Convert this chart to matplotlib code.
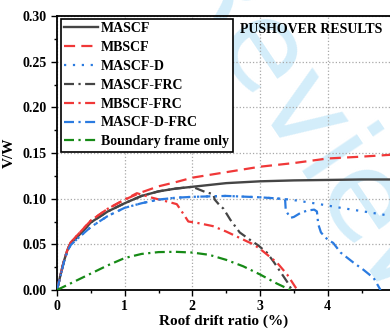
import matplotlib
matplotlib.use("Agg")
import matplotlib.pyplot as plt
from matplotlib.ticker import MultipleLocator, FormatStrFormatter

plt.rcParams['font.family'] = ['Liberation Serif', 'DejaVu Serif']
plt.rcParams['font.weight'] = 'bold'

# pushover curves: roof drift ratio (%) vs base shear ratio V/W
mascf_x = [0, 0.05, 0.1, 0.15, 0.2, 0.3, 0.5, 0.75, 1.0, 1.25, 1.5, 1.75, 2.0, 2.5, 3.0, 3.5, 4.0, 4.5, 4.92]
mascf_y = [0, 0.016, 0.031, 0.043, 0.051, 0.058, 0.074, 0.086, 0.095, 0.103, 0.108, 0.111, 0.113, 0.117, 0.119, 0.120, 0.1205, 0.121, 0.121]

mbscf_x = [0, 0.05, 0.1, 0.15, 0.2, 0.3, 0.5, 0.75, 1.0, 1.25, 1.5, 1.75, 2.0, 2.5, 3.0, 3.5, 4.0, 4.5, 4.92]
mbscf_y = [0, 0.016, 0.031, 0.043, 0.052, 0.060, 0.076, 0.089, 0.099, 0.107, 0.1135, 0.118, 0.123, 0.129, 0.135, 0.139, 0.144, 0.146, 0.148]

mascf_d_x = [0, 0.05, 0.1, 0.15, 0.2, 0.3, 0.5, 0.75, 1.0, 1.25, 1.5, 1.75, 2.0, 2.5, 3.0, 3.45, 3.84, 4.19, 4.53, 4.92]
mascf_d_y = [0, 0.015, 0.030, 0.042, 0.049, 0.056, 0.069, 0.081, 0.090, 0.095, 0.099, 0.101, 0.102, 0.103, 0.1015, 0.099, 0.0945, 0.090, 0.086, 0.0813]

mascf_frc_x = [0, 0.05, 0.1, 0.15, 0.2, 0.3, 0.5, 0.75, 1.0, 1.25, 1.5, 1.75, 2.0, 2.1, 2.2, 2.31, 2.33, 2.4, 2.46, 2.56, 2.7, 2.85, 2.97, 3.1, 3.2, 3.3, 3.4, 3.47]
mascf_frc_y = [0, 0.016, 0.031, 0.043, 0.051, 0.058, 0.074, 0.086, 0.095, 0.103, 0.108, 0.111, 0.113, 0.110, 0.107, 0.105, 0.099, 0.093, 0.089, 0.077, 0.063, 0.055, 0.049, 0.041, 0.031, 0.020, 0.009, 0]

mbscf_frc_x = [0, 0.05, 0.1, 0.15, 0.2, 0.3, 0.5, 0.75, 1.0, 1.18, 1.38, 1.62, 1.77, 1.87, 1.94, 2.07, 2.3, 2.5, 2.7, 2.9, 3.0, 3.25, 3.4, 3.55]
mbscf_frc_y = [0, 0.016, 0.031, 0.043, 0.052, 0.060, 0.076, 0.089, 0.099, 0.106, 0.1015, 0.097, 0.094, 0.083, 0.075, 0.0735, 0.070, 0.064, 0.057, 0.050, 0.045, 0.030, 0.017, 0]

mascf_d_frc_x = [0, 0.05, 0.1, 0.15, 0.2, 0.3, 0.5, 0.75, 1.0, 1.25, 1.5, 1.75, 2.0, 2.5, 3.0, 3.3, 3.37, 3.38, 3.45, 3.5, 3.6, 3.7, 3.8, 3.84, 3.86, 3.9, 4.0, 4.08, 4.19, 4.38, 4.53, 4.68, 4.78]
mascf_d_frc_y = [0, 0.015, 0.030, 0.042, 0.049, 0.056, 0.069, 0.081, 0.090, 0.095, 0.099, 0.101, 0.102, 0.103, 0.1015, 0.100, 0.0995, 0.087, 0.079, 0.080, 0.0845, 0.087, 0.088, 0.086, 0.072, 0.063, 0.055, 0.0516, 0.041, 0.030, 0.022, 0.013, 0]

frame_x = [0, 0.25, 0.5, 0.75, 1.0, 1.25, 1.5, 1.75, 2.0, 2.25, 2.5, 2.75, 3.0, 3.25, 3.45]
frame_y = [0, 0.009, 0.018, 0.027, 0.035, 0.0395, 0.0415, 0.0418, 0.041, 0.0385, 0.033, 0.026, 0.017, 0.007, 0]

gray = '#454545'
red = '#f03838'
blue = '#2b7be0'
green = '#168a16'
dash_dot = (0, (4.5, 2, 1, 2))

fig = plt.figure(figsize=(3.9, 3.3), dpi=100, facecolor='white')
ax = fig.add_axes([57 / 390, 40 / 330, 333 / 390, 274 / 330])
ax.set_facecolor('none')

# faint watermark behind the plot
fig.text(0.80, 0.56, 'Review', fontsize=88, rotation=-56, color='#d3edfa',
         ha='center', va='center', family='DejaVu Sans', weight='normal', zorder=-1)

ax.plot(mascf_x, mascf_y, '-', color=gray, lw=1.7, label='MASCF', zorder=3)
ax.plot(mbscf_x, mbscf_y, color=red, lw=1.6, ls=(0, (5, 2.8)), label='MBSCF', zorder=3)
ax.plot(mascf_d_x, mascf_d_y, color=blue, lw=1.6, ls=(0, (1, 3)), label='MASCF-D', zorder=3)
ax.plot(mascf_frc_x, mascf_frc_y, color=gray, lw=1.6, ls=dash_dot, label='MASCF-FRC', zorder=3)
ax.plot(mbscf_frc_x, mbscf_frc_y, color=red, lw=1.6, ls=dash_dot, label='MBSCF-FRC', zorder=3)
ax.plot(mascf_d_frc_x, mascf_d_frc_y, color=blue, lw=1.6, ls=dash_dot, label='MASCF-D-FRC', zorder=3)
ax.plot(frame_x, frame_y, color=green, lw=1.6, ls=dash_dot, label='Boundary frame only', zorder=3)

ax.set_xlim(0, 4.92)
ax.set_ylim(0, 0.30)
ax.xaxis.set_major_locator(MultipleLocator(1))
ax.xaxis.set_minor_locator(MultipleLocator(0.5))
ax.yaxis.set_major_locator(MultipleLocator(0.05))
ax.yaxis.set_minor_locator(MultipleLocator(0.025))
ax.yaxis.set_major_formatter(FormatStrFormatter('%.2f'))
ax.tick_params(which='major', direction='out', length=4, width=1, labelsize=10)
ax.tick_params(which='minor', direction='out', length=2.5, width=1)
ax.grid(True, which='major', color='#a8a8a8', ls=':', lw=0.9)
for side in ['left', 'bottom', 'top']:
    ax.spines[side].set_linewidth(1.3)
ax.spines['right'].set_visible(False)

ax.set_xlabel('Roof drift ratio (%)', fontsize=11, fontweight='bold', labelpad=1)
ax.set_ylabel('V/W', fontsize=11, fontweight='bold', labelpad=5)
ax.text(0.55, 0.952, 'PUSHOVER RESULTS', transform=ax.transAxes, fontsize=10,
        fontweight='bold', va='center', ha='left')

leg = ax.legend(loc='upper left', bbox_to_anchor=(0.012, 0.99), fontsize=10,
                frameon=True, fancybox=False, edgecolor='black', framealpha=1,
                handlelength=2.45, handletextpad=0.2, labelspacing=0.42,
                borderpad=0.25, borderaxespad=0)
leg.get_frame().set_linewidth(1.2)
for t in leg.get_texts():
    t.set_fontweight('bold')

fig.savefig('out.png', dpi=100)
